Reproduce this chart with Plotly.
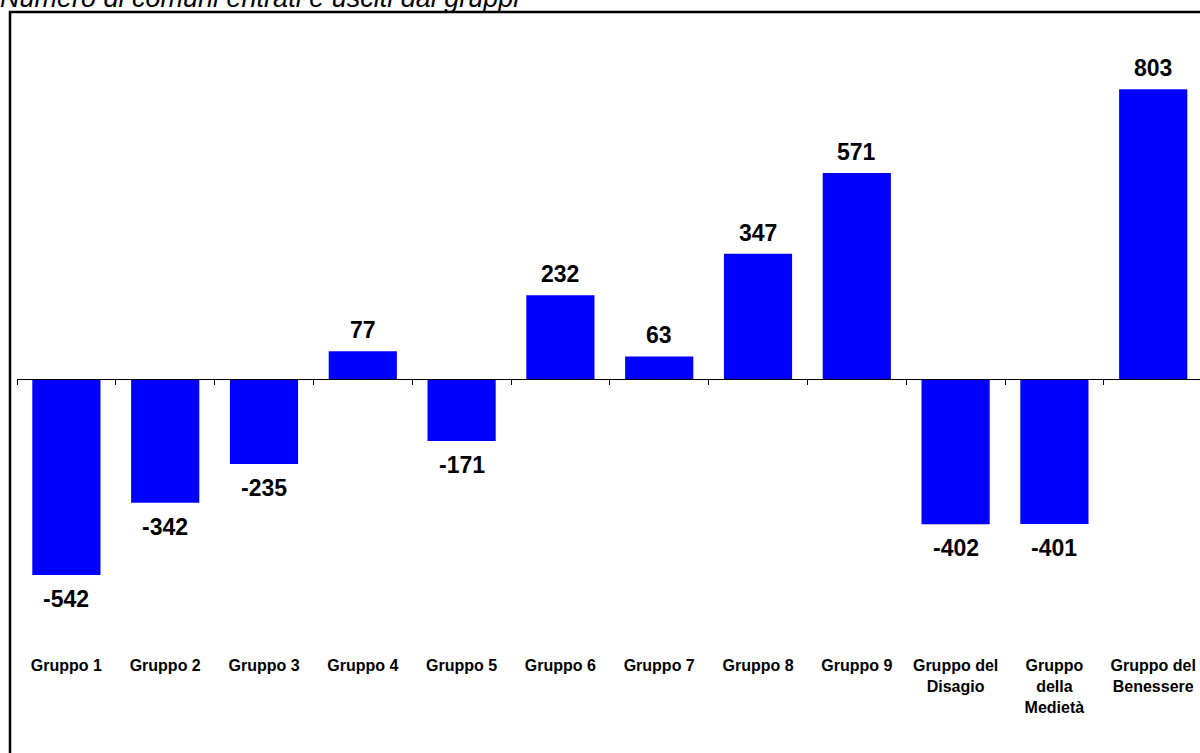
import plotly.graph_objects as go

categories = ["Gruppo 1", "Gruppo 2", "Gruppo 3", "Gruppo 4", "Gruppo 5", "Gruppo 6",
              "Gruppo 7", "Gruppo 8", "Gruppo 9", "Gruppo del<br>Disagio",
              "Gruppo<br>della<br>Medietà", "Gruppo del<br>Benessere"]
values = [-542, -342, -235, 77, -171, 232, 63, 347, 571, -402, -401, 803]
title_text = "Numero di comuni entrati e usciti dai gruppi"

Y_MIN, Y_MAX = -750, 1000
FONT = "Arial, Liberation Sans, sans-serif"
W, H = 1200, 753
ML, MR, MT, MB = 17, 0, 18, 753 - 650
PW, PH = W - ML - MR, H - MT - MB

def px_x(p):  # page pixel -> paper x
    return (p - ML) / PW

def px_y(p):  # page pixel -> paper y
    return (H - MB - p) / PH

fig = go.Figure()
fig.add_trace(go.Bar(x=categories, y=values, marker=dict(color="#0000FF", line=dict(width=0)),
                     showlegend=False, hoverinfo="skip", xaxis="x", yaxis="y"))
fig.add_trace(go.Scatter(x=categories, y=values, mode="markers", marker=dict(opacity=0),
                         showlegend=False, hoverinfo="skip", xaxis="x2", yaxis="y"))

for c, v in zip(categories, values):
    if v >= 0:
        fig.add_annotation(x=c, y=v, text=str(v), showarrow=False, yanchor="bottom",
                           yshift=6, font=dict(family=FONT, size=23, color="black", weight="bold"))
    else:
        fig.add_annotation(x=c, y=v, text=str(v), showarrow=False, yanchor="top",
                           yshift=-9, font=dict(family=FONT, size=23, color="black", weight="bold"))

fig.add_annotation(xref="paper", yref="paper", x=px_x(-2), y=px_y(15), xanchor="left",
                   yanchor="bottom", text=title_text, showarrow=False,
                   font=dict(family=FONT, size=27, color="black", style="italic"))

fig.add_shape(type="rect", xref="paper", yref="paper", x0=px_x(10), y0=-0.3, x1=1.05, y1=px_y(12),
              line=dict(color="black", width=2.5), fillcolor="rgba(0,0,0,0)", layer="above")

xr = [-0.5, -0.5 + PW / 98.8]
fig.update_layout(
    width=W, height=H,
    margin=dict(l=ML, r=MR, t=MT, b=MB, pad=0),
    plot_bgcolor="white", paper_bgcolor="white",
    bargap=0.31,
    xaxis=dict(type="category", range=xr, showline=False, ticks="", showgrid=False,
               tickfont=dict(family=FONT, size=16, color="black", weight="bold"),
               ticklabelstandoff=4, fixedrange=True),
    xaxis2=dict(type="category", range=xr, overlaying="x", anchor="free",
                position=(0 - Y_MIN) / (Y_MAX - Y_MIN), side="bottom",
                showline=True, linecolor="black", linewidth=1,
                ticks="outside", ticklen=5, tickcolor="black", tickwidth=1,
                tickson="boundaries", showticklabels=False, showgrid=False),
    yaxis=dict(range=[Y_MIN, Y_MAX], showgrid=False, zeroline=False, showticklabels=False,
               ticks="", showline=False),
)

fig.write_html("out.html", config={"displayModeBar": False},
               post_script="document.body.style.margin='0';document.body.style.overflow='hidden';")
